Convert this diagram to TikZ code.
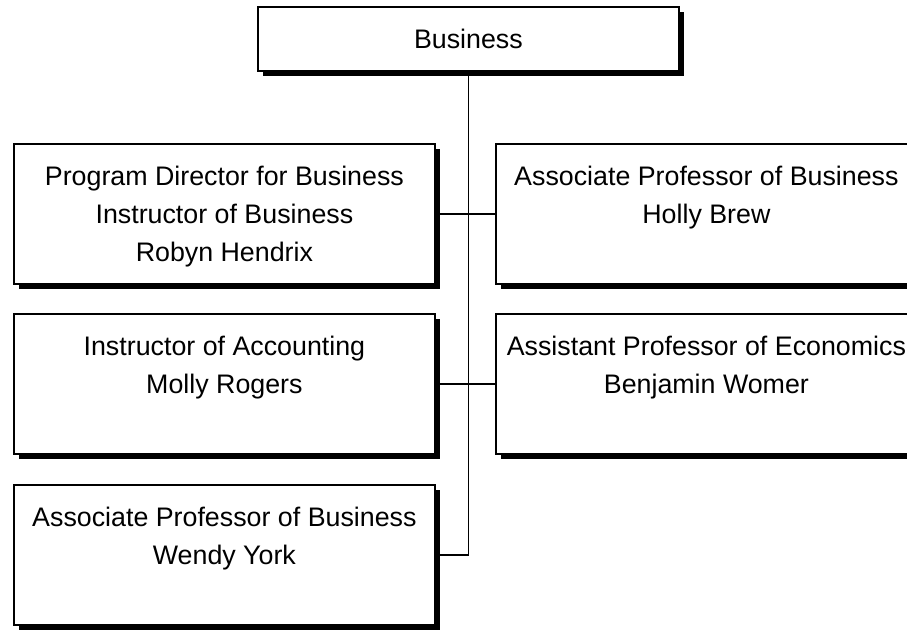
\documentclass[tikz,border=0pt]{standalone}
\usepackage{fontspec}
\setmainfont{Liberation Sans}
\usetikzlibrary{
  shadows,      % Style "drop shadow"
  backgrounds,  % Predefined layer named "background"
}
\newcommand{\boxlines}[1]{\begin{tabular}[t]{@{}c@{}}#1\end{tabular}}
\def\mywidth{210.5pt}
\tikzset{
  font=\fontsize{13.4}{19}\selectfont,
  my box/.style={
    draw,
    fill=white,
    line width=0.9pt,
    rectangle,
    inner sep=0mm,
    minimum width=\mywidth,
    text height=21pt,
    text depth=49pt,
    anchor=north west,
    drop shadow={shadow xshift=2.6pt,shadow yshift=-2.6pt,fill=black,opacity=1}
  },
  my top/.style={
    my box,
    text depth=11pt
  },
  my line/.style={
    line width=0.8pt
  }
}

\begin{document}
\begin{tikzpicture}[x=0.5pt,y=-0.5pt]
\useasboundingbox (0,0) rectangle (907,629);
\node[my top] (biz)   at (257,6)   {\boxlines{Business}};
\node[my box] (dir)   at (13,143)  {\boxlines{Program Director for Business\\Instructor of Business\\Robyn Hendrix}};
\node[my box] (brew)  at (495,143) {\boxlines{Associate Professor of Business\\Holly Brew}};
\node[my box] (acct)  at (13,313)  {\boxlines{Instructor of Accounting\\Molly Rogers}};
\node[my box] (womer) at (495,313) {\boxlines{Assistant Professor of Economics\\Benjamin Womer}};
\node[my box] (york)  at (13,484)  {\boxlines{Associate Professor of Business\\Wendy York}};
\begin{scope}[on background layer]
  \draw[my line] (biz.south) -- (biz.south |- york.east) -- (york.east);
  \draw[my line] (dir.east)  -- (brew.west);
  \draw[my line] (acct.east) -- (womer.west);
\end{scope}
\end{tikzpicture}
\end{document}
